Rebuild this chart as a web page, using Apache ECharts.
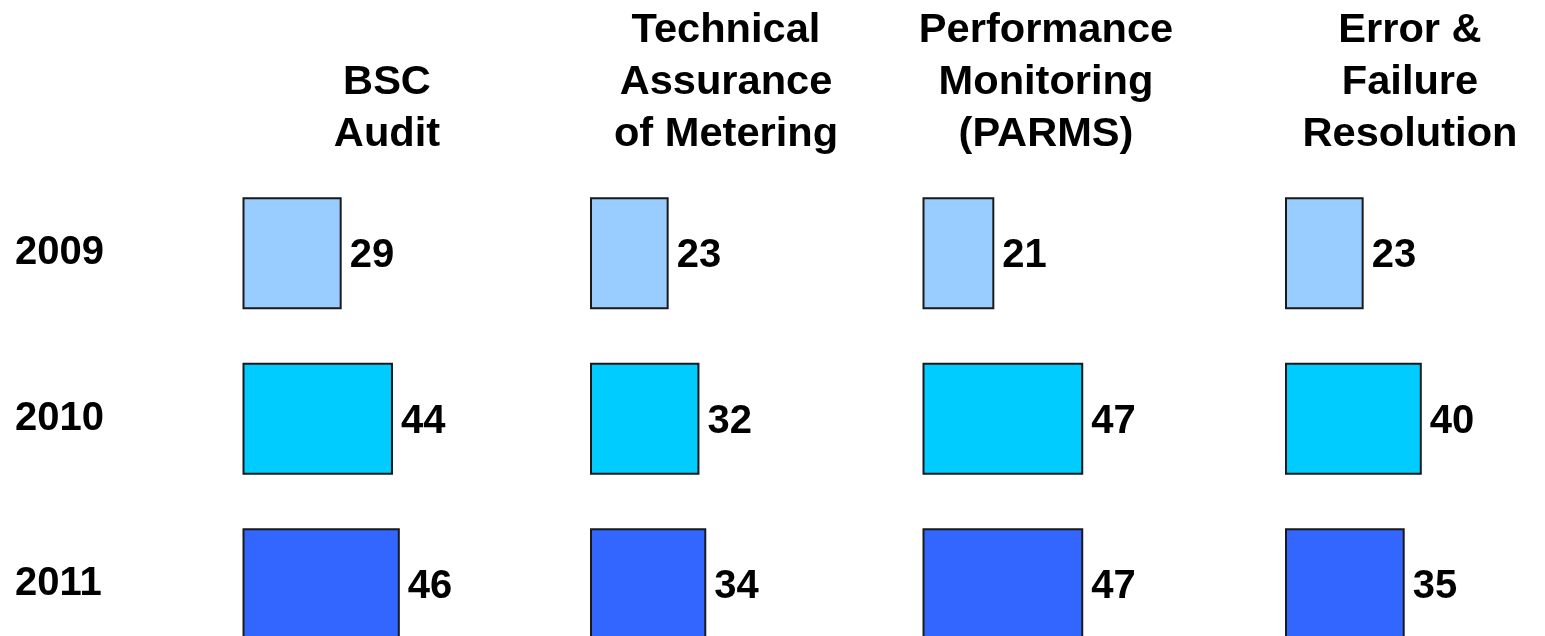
<!DOCTYPE html>
<html>
<head>
<meta charset="utf-8">
<script src="https://cdn.jsdelivr.net/npm/echarts@6/dist/echarts.min.js"></script>
<style>
html,body{margin:0;padding:0;background:#fff;overflow:hidden;}
#chart{width:1545px;height:700px;}
</style>
</head>
<body>
<div id="chart"></div>
<script>
// ---- data ----
var years = ['2009', '2010', '2011'];
var categories = ['BSC\nAudit', 'Technical\nAssurance\nof Metering', 'Performance\nMonitoring\n(PARMS)', 'Error &\nFailure\nResolution'];
var bscAudit = [29, 44, 46];
var technicalAssurance = [23, 32, 34];
var performanceMonitoring = [21, 47, 47];
var errorFailure = [23, 40, 35];

// ---- style / layout ----
var seriesValues = [bscAudit, technicalAssurance, performanceMonitoring, errorFailure];
var yearColors = ['#99CCFF', '#00CCFF', '#3366FF'];
var colLeft = [242.5, 590, 922.5, 1285];
var headerCenter = [387, 726, 1046, 1410];
var FONT = 'Liberation Sans, Arial, sans-serif';

var chart = echarts.init(document.getElementById('chart'), null, {renderer: 'canvas'});

var grids = [], xAxes = [], yAxes = [], series = [], graphics = [];
seriesValues.forEach(function (vals, i) {
  grids.push({left: colLeft[i], top: 170.5, width: 171, height: 496.5, containLabel: false});
  xAxes.push({type: 'value', gridIndex: i, min: 0, max: 50, show: false});
  yAxes.push({
    type: 'category', gridIndex: i, data: years, inverse: true,
    axisLine: {show: false}, axisTick: {show: false}, splitLine: {show: false},
    axisLabel: {
      show: i === 0, align: 'left', margin: colLeft[0] - 15, padding: [6, 0, 0, 0],
      fontFamily: FONT, fontWeight: 'bold', fontSize: 40, color: '#000'
    }
  });
  series.push({
    type: 'bar', xAxisIndex: i, yAxisIndex: i, barWidth: 112,
    data: vals.map(function (v, j) {
      return {value: v, itemStyle: {color: yearColors[j], borderColor: '#1a1a1a', borderWidth: 2}};
    }),
    label: {
      show: true, position: 'right', distance: 8, offset: [0, 3],
      fontFamily: FONT, fontWeight: 'bold', fontSize: 40, color: '#000'
    },
    silent: true, animation: false
  });
  graphics.push({
    type: 'text', x: headerCenter[i], y: 161, scaleX: 1.04,
    style: {
      text: categories[i], textAlign: 'center', textVerticalAlign: 'bottom',
      font: 'bold 40px ' + FONT, lineHeight: 52, fill: '#000'
    }
  });
});

chart.setOption({
  backgroundColor: '#fff',
  animation: false,
  grid: grids,
  xAxis: xAxes,
  yAxis: yAxes,
  series: series,
  graphic: graphics
});
</script>
</body>
</html>
